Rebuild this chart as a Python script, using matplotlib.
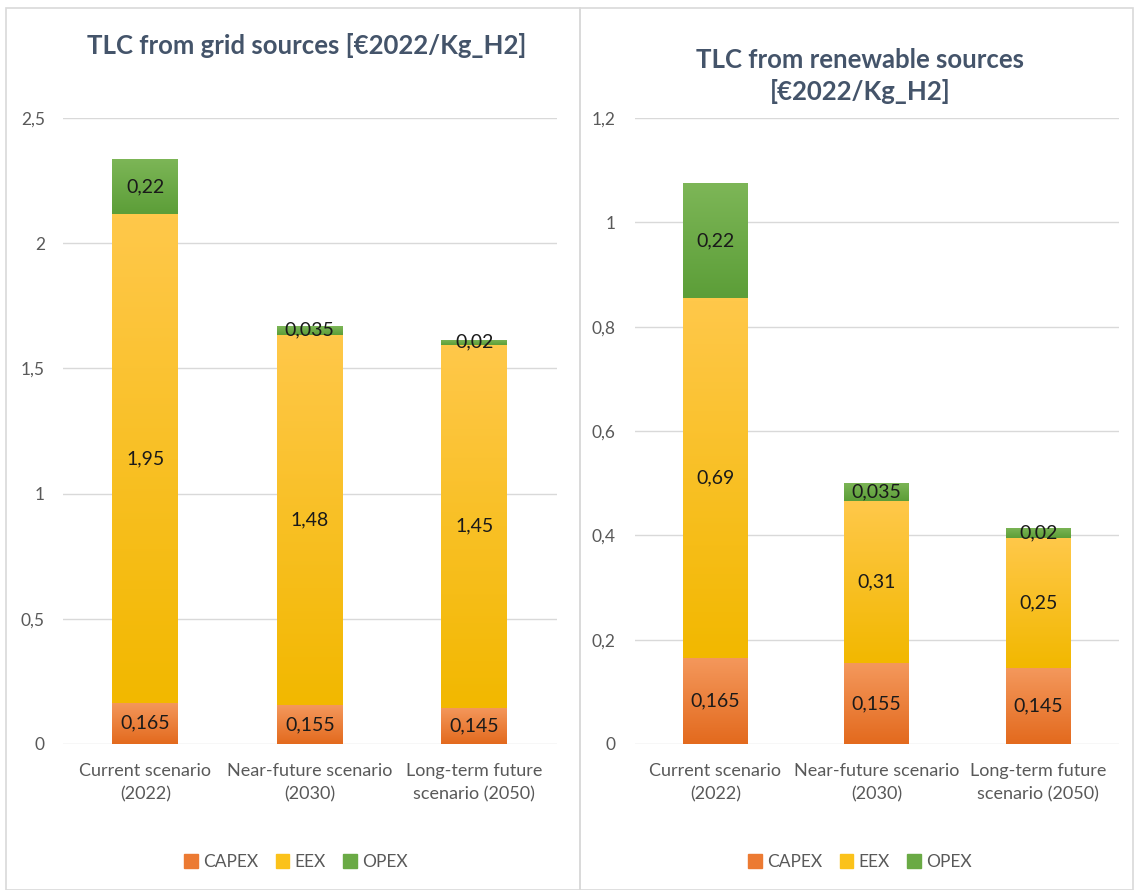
import matplotlib
matplotlib.use("Agg")
import matplotlib.pyplot as plt
import numpy as np
from matplotlib.colors import LinearSegmentedColormap
from matplotlib.patches import Rectangle
from matplotlib.ticker import FuncFormatter

plt.rcParams['font.family'] = ['Lato', 'DejaVu Sans']

categories = ["Current scenario\n(2022)", "Near-future scenario\n(2030)", "Long-term future\nscenario (2050)"]
series_names = ["CAPEX", "EEX", "OPEX"]

grid_capex = [0.165, 0.155, 0.145]
grid_eex = [1.95, 1.48, 1.45]
grid_opex = [0.22, 0.035, 0.02]

ren_capex = [0.165, 0.155, 0.145]
ren_eex = [0.69, 0.31, 0.25]
ren_opex = [0.22, 0.035, 0.02]

grid_ticks = [0, 0.5, 1, 1.5, 2, 2.5]
ren_ticks = [0, 0.2, 0.4, 0.6, 0.8, 1, 1.2]

# (top colour, bottom colour) gradients per series
grads = {
    "CAPEX": ("#F4985C", "#E36A1E"),
    "EEX": ("#FFC84A", "#F2B800"),
    "OPEX": ("#7DB657", "#5C9E38"),
}
legend_cols = {"CAPEX": "#EC7A32", "EEX": "#FBC21A", "OPEX": "#6AAA45"}

W, H = 1134, 890
fig = plt.figure(figsize=(W / 100, H / 100), dpi=100)
fig.patch.set_facecolor("white")

# panel borders
for (x0, x1) in [(6, 580), (580, 1133)]:
    fig.patches.append(Rectangle((x0 / W, 0), (x1 - x0) / W, (H - 8) / H,
                                 transform=fig.transFigure, fill=False,
                                 edgecolor="#D9D9D9", linewidth=1.2))

def fmt(v):
    return ("%g" % v).replace(".", ",")

title_x_map = {
    "TLC from grid sources [€2022/Kg_H2]": 307 / W,
    "TLC from renewable sources\n[€2022/Kg_H2]": 860 / W,
}

def panel(rect, title, capex, eex, opex, ticks, ymax, title_y, legend_x, ypad):
    ax = fig.add_axes(rect)
    x = np.arange(len(categories))
    series = [capex, eex, opex]
    bottoms = np.zeros(len(categories))
    for name, vals in zip(series_names, series):
        bars = ax.bar(x, vals, 0.4, bottom=bottoms, color=legend_cols[name],
                      linewidth=0, zorder=2, label=name)
        top_c, bot_c = grads[name]
        cmap = LinearSegmentedColormap.from_list(name, [bot_c, top_c])
        for b in bars:
            bx, by = b.get_x(), b.get_y()
            bw, bh = b.get_width(), b.get_height()
            grad = np.linspace(0, 1, 100).reshape(-1, 1)
            im = ax.imshow(grad, cmap=cmap, aspect="auto", origin="lower",
                           extent=[bx, bx + bw, by, by + bh], zorder=3,
                           interpolation="bicubic")
            im.set_clip_path(b)
        for xi, v, bt in zip(x, vals, bottoms):
            ax.text(xi, bt + v / 2, fmt(v), ha="center", va="center",
                    fontsize=14, color="#1A1A1A", zorder=5)
        bottoms = bottoms + np.array(vals)
    ax.set_xlim(-0.5, len(categories) - 0.5)
    ax.set_ylim(0, ymax)
    ax.set_yticks(ticks)
    ax.yaxis.set_major_formatter(FuncFormatter(lambda v, p: fmt(round(v, 2))))
    ax.set_xticks(x)
    ax.set_xticklabels(categories, fontsize=13, color="#595959", linespacing=1.5)
    ax.tick_params(axis="y", labelsize=12.5, labelcolor="#595959", length=0, pad=ypad)
    ax.tick_params(axis="x", length=0, pad=14)
    for s in ax.spines.values():
        s.set_visible(False)
    ax.grid(axis="y", color="#D9D9D9", linewidth=1, zorder=0)
    ax.set_axisbelow(True)
    ax.set_aspect("auto")
    fig.text(title_x_map[title], title_y, title, ha="center", va="center",
             fontsize=18.5, fontweight="bold", color="#44546A", linespacing=1.3)
    handles = [Rectangle((0, 0), 1, 1, color=legend_cols[n]) for n in series_names]
    fig.legend(handles, series_names, loc="center", bbox_to_anchor=(legend_x, (H - 862) / H),
               ncol=3, frameon=False, fontsize=12.5, labelcolor="#595959",
               handlelength=0.8, handleheight=0.8, handletextpad=0.3, columnspacing=1.0)
    return ax

ax_bottom = (H - 744) / H
ax_height = (744 - 118) / H
panel([63 / W, ax_bottom, 493.6 / W, ax_height], "TLC from grid sources [€2022/Kg_H2]",
      grid_capex, grid_eex, grid_opex, grid_ticks, 2.5, (H - 45) / H, 296 / W, 13)
panel([634.75 / W, ax_bottom, 484 / W, ax_height], "TLC from renewable sources\n[€2022/Kg_H2]",
      ren_capex, ren_eex, ren_opex, ren_ticks, 1.2, (H - 76) / H, 860 / W, 14)

fig.savefig("out.png", dpi=100)
